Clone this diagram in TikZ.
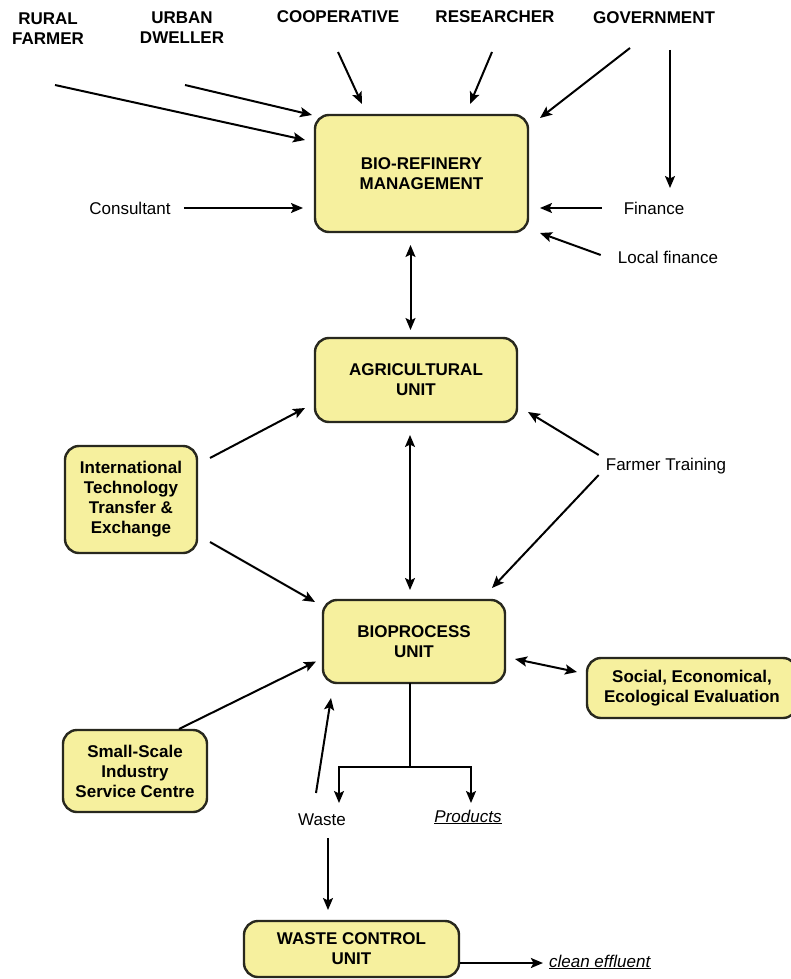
\documentclass[tikz,border=0pt]{standalone}
\usepackage{fontspec}
\setmainfont{Liberation Sans}
\usetikzlibrary{arrows.meta}
\definecolor{boxfill}{RGB}{246,240,158}
\definecolor{boxline}{RGB}{40,40,30}
\begin{document}
\begin{tikzpicture}
        [x=1pt,y=-1pt,
         main/.style ={draw=boxline,fill=boxfill,line width=2.4pt,rounded corners=14pt,align=center,inner sep=0pt,outer sep=0pt,font=\fontsize{17}{20}\selectfont\bfseries},
         lbl/.style ={align=center,inner sep=0pt,font=\fontsize{17}{20}\selectfont\bfseries},
         txt/.style ={inner sep=0pt,font=\fontsize{17}{20}\selectfont},
         arr/.style ={-{Stealth[length=12pt,width=10pt,inset=2.5pt]},line width=2pt},
         dbl/.style ={{Stealth[length=12pt,width=10pt,inset=2.5pt]}-{Stealth[length=12pt,width=10pt,inset=2.5pt]},line width=2pt}]
        \path[use as bounding box,fill=white] (0,0) rectangle (790,979);
        \node[lbl] (rural) at (48,29){RURAL\\FARMER};
        \node[lbl] (urban) at (182,28){URBAN\\DWELLER};
        \node[lbl] (coop) at (338,17){COOPERATIVE};
        \node[lbl] (research) at (495,17){RESEARCHER};
        \node[lbl] (govt) at (654,18){GOVERNMENT};
        \node[main,minimum width=213pt,minimum height=117pt] (bio) at (421.5,173.5){BIO-REFINERY\\MANAGEMENT};
        \node[txt] (consult) at (130,208){Consultant};
        \node[txt] (finance) at (654,208){Finance};
        \node[txt] (localfin) at (668,257){Local finance};
        \node[main,minimum width=202pt,minimum height=84pt] (agri) at (416,380){AGRICULTURAL\\UNIT};
        \node[main,minimum width=132pt,minimum height=107pt] (itte) at (131,499.5){International\\Technology\\Transfer \&\\Exchange};
        \node[txt] (farmtrain) at (666,466){Farmer Training};
        \node[main,minimum width=182pt,minimum height=83pt] (bioproc) at (414,641.5){BIOPROCESS\\UNIT};
        \node[main,minimum width=210pt,minimum height=60pt] (social) at (692,688){Social, Economical,\\Ecological Evaluation};
        \node[main,minimum width=144pt,minimum height=82pt] (small) at (135,771){Small-Scale\\Industry\\Service Centre};
        \node[txt] (waste) at (322,820){Waste};
        \node[txt] (products) at (468,817){\underline{\textit{Products}}};
        \node[main,minimum width=215pt,minimum height=56pt] (wcu) at (351.5,949){WASTE CONTROL\\UNIT};
        \node[txt] (effluent) at (600,962){\underline{\textit{clean effluent}}};
        \coordinate (split) at (410,767);
        \draw[arr] ([shift={(7,56)}]rural.center) to ([shift={(-10,25)}]bio.north west);
        \draw[arr] ([shift={(3,57)}]urban.center) to ([shift={(-3,0)}]bio.north west);
        \draw[arr] ([shift={(0,35)}]coop.center) to ([shift={(47,-11)}]bio.north west);
        \draw[arr] ([shift={(-3,35)}]research.center) to ([shift={(-58,-11)}]bio.north east);
        \draw[arr] ([shift={(-24,30)}]govt.center) to ([shift={(12,3)}]bio.north east);
        \draw[arr] ([shift={(16,32)}]govt.center) to ([shift={(16,-20)}]finance.center);
        \draw[arr,shorten <=13pt,shorten >=12pt] (consult.east) to (bio.west |- consult.east);
        \draw[arr,shorten <=22pt,shorten >=12pt] (finance.west) to (bio.east |- finance.west);
        \draw[arr] ([shift={(-17,-2)}]localfin.west) to ([shift={(12,1)}]bio.south east);
        \draw[dbl,shorten <=13pt,shorten >=8pt] ([xshift=-11pt]bio.south) to ([xshift=-11pt]bio.south |- agri.north);
        \draw[arr] ([shift={(13,12)}]itte.north east) to ([shift={(-10,-14)}]agri.south west);
        \draw[arr] ([shift={(13,-11)}]itte.south east) to ([shift={(-8,2)}]bioproc.north west);
        \draw[dbl,shorten <=13pt,shorten >=10pt] ([xshift=-6pt]agri.south) to ([xshift=-6pt]agri.south |- bioproc.north);
        \draw[arr] ([shift={(-7,-11)}]farmtrain.west) to ([shift={(11,-10)}]agri.south east);
        \draw[arr] ([shift={(-7,9)}]farmtrain.west) to ([shift={(-13,-12)}]bioproc.north east);
        \draw[dbl] ([shift={(10,-24)}]bioproc.south east) to ([shift={(-10,-16)}]social.west);
        \draw[arr] ([shift={(44,-1)}]small.north) to ([shift={(-7,20)}]bioproc.west);
        \draw[arr] ([shift={(-6,-27)}]waste.center) to ([shift={(8,15)}]bioproc.south west);
        \draw[line width=2pt] ([xshift=-4pt]bioproc.south) to (split);
        \draw[arr] (split) -| ([shift={(17,-17)}]waste.center);
        \draw[arr] (split) -| ([shift={(3,-14)}]products.center);
        \draw[arr,shorten >=11pt] ([shift={(6,18)}]waste.center) to ([xshift=6pt]waste.center |- wcu.north);
        \draw[arr] ([shift={(1,-14)}]wcu.south east) to ([shift={(-6,1)}]effluent.west);
\end{tikzpicture}
\end{document}
